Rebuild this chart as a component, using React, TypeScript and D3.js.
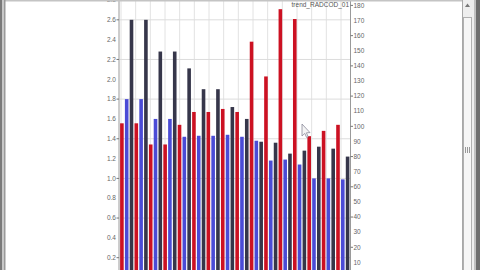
import React from "react";
import * as d3 from "d3";

// ---- data ----
const groups = d3.range(1, 17).map((i) => `P${i}`);
const seriesNames = ["trend_RADCOD_01", "seriesBlue", "seriesNavy"];
// red series (right axis)
const redValues = [102, 102, 88, 88, 101, 109.5, 109.5, 111.5, 109.5, 156, 133, 177.5, 171, 93.5, 97, 101];
// blue series (left axis)
const blueValues = [1.8, 1.8, 1.6, 1.6, 1.42, 1.43, 1.43, 1.44, 1.42, 1.38, 1.18, 1.19, 1.14, 1.0, 1.0, 0.99];
// navy series (left axis)
const navyValues = [2.6, 2.6, 2.28, 2.28, 2.11, 1.9, 1.9, 1.72, 1.6, 1.37, 1.36, 1.25, 1.28, 1.32, 1.3, 1.22];
const leftTicks = [0.2, 0.4, 0.6, 0.8, 1.0, 1.2, 1.4, 1.6, 1.8, 2.0, 2.2, 2.4, 2.6, 2.8];
const leftGridTicks = [0.2, 0.6, 1.0, 1.4, 1.8, 2.2, 2.6];
const rightTicks = [10, 20, 30, 40, 50, 60, 70, 80, 90, 100, 110, 120, 130, 140, 150, 160, 170, 180];
const rightMarkTicks = [20, 40, 60, 80, 100, 120, 140, 160, 180];
const legendLabel = "trend_RADCOD_01";

const W = 480;
const H = 270;
const plotLeft = 119.5;
const plotRight = 350;
const zeroY = 277.5;

const colors: Record<string, string> = {
  trend_RADCOD_01: "#cc1122",
  seriesBlue: "#4b4bd6",
  seriesNavy: "#36364a",
};

export default function App() {
  const x0 = d3.scaleBand<string>().domain(groups).range([plotLeft, plotRight]);
  const x1 = d3
    .scaleBand<string>()
    .domain(seriesNames)
    .range([0, x0.bandwidth()])
    .paddingInner(0.25)
    .paddingOuter(0.125);
  const yL = d3.scaleLinear().domain([0, 2.8]).range([zeroY, 0]);
  const yR = d3.scaleLinear().domain([0, 180]).range([zeroY, 5.4]);
  const gx = d3.scaleLinear().domain([0, 15]).range([121, 341]);
  const gridIdx = d3.range(0, 16);

  const font = "'Liberation Sans', Arial, sans-serif";

  const bars: { key: string; x: number; y: number; h: number; c: string }[] = [];
  groups.forEach((g, i) => {
    const vals: [string, number, d3.ScaleLinear<number, number>][] = [
      ["trend_RADCOD_01", redValues[i], yR],
      ["seriesBlue", blueValues[i], yL],
      ["seriesNavy", navyValues[i], yL],
    ];
    vals.forEach(([s, v, sc]) => {
      const y = sc(v);
      bars.push({ key: `${g}-${s}`, x: (x0(g) ?? 0) + (x1(s) ?? 0), y, h: H - y, c: colors[s] });
    });
  });

  return (
    <svg
      width={W}
      height={H}
      style={{ position: "absolute", left: 0, top: 0, background: "#fff" }}
    >
      <rect x={0} y={0} width={W} height={H} fill="#ffffff" />
      {/* vertical gridlines */}
      {gridIdx.map((j) => (
        <line key={`gv${j}`} x1={gx(j)} x2={gx(j)} y1={0} y2={H} stroke="#e2e2e2" strokeWidth={1} />
      ))}
      {/* horizontal gridlines */}
      {leftGridTicks.map((t) => (
        <line key={`gh${t}`} x1={plotLeft} x2={plotRight} y1={yL(t)} y2={yL(t)} stroke="#dcdcdc" strokeWidth={1} />
      ))}
      {/* bars */}
      {bars.map((b) => (
        <rect key={b.key} x={b.x} y={b.y} width={x1.bandwidth()} height={b.h} fill={b.c} />
      ))}
      {/* left axis */}
      <line x1={plotLeft - 0.5} x2={plotLeft - 0.5} y1={0} y2={H} stroke="#9a9a9a" />
      {leftTicks.map((t, i) => (
        <g key={`lt${t}`}>
          {i % 2 === 0 ? (
            <line x1={plotLeft - 3} x2={plotLeft - 0.5} y1={yL(t)} y2={yL(t)} stroke="#777" />
          ) : null}
          <text
            x={plotLeft - 3.5}
            y={yL(t)}
            dy="0.35em"
            textAnchor="end"
            fontSize={6.5}
            fontFamily={font}
            fill="#666"
          >
            {t.toFixed(1)}
          </text>
        </g>
      ))}
      {/* right axis */}
      <line x1={plotRight + 0.5} x2={plotRight + 0.5} y1={0} y2={H} stroke="#9a9a9a" />
      {rightMarkTicks.map((t) => (
        <line key={`rm${t}`} x1={plotRight + 0.5} x2={plotRight + 3} y1={yR(t)} y2={yR(t)} stroke="#777" />
      ))}
      {rightTicks.map((t) => (
        <text
          key={`rt${t}`}
          x={plotRight + 3.5}
          y={yR(t)}
          dy="0.35em"
          textAnchor="start"
          fontSize={6.5}
          fontFamily={font}
          fill="#666"
        >
          {t}
        </text>
      ))}
      {/* legend label */}
      <text x={plotRight - 1} y={7} textAnchor="end" fontSize={6.5} fontFamily={font} fill="#555">
        {legendLabel}
      </text>
      {/* window frame top */}
      <rect x={0} y={0} width={463} height={1.5} fill="#c4c4c4" />
      {/* left window edge */}
      <rect x={0} y={0} width={2} height={H} fill="#7a7a7a" />
      <rect x={2} y={0} width={2} height={H} fill="#c8c8c8" />
      <rect x={4} y={0} width={1.5} height={H} fill="#9a9a9a" />
      {/* right scrollbar */}
      <rect x={462} y={0} width={12} height={H} fill="#eeeeee" />
      <line x1={462.5} x2={462.5} y1={0} y2={H} stroke="#a8a8a8" />
      <rect x={463.5} y={17.5} width={8} height={270} fill="#f6f6f6" stroke="#b0b0b0" />
      <path d="M465,7 L467.5,3.5 L470,7 Z" fill="#777" />
      {[465.5, 467.5, 469.5].map((gxp) => (
        <line key={`grip${gxp}`} x1={gxp} x2={gxp} y1={147} y2={153} stroke="#999" />
      ))}
      <rect x={474} y={0} width={2} height={H} fill="#c0c0c0" />
      <rect x={476} y={0} width={4} height={H} fill="#6e6e6e" />
      {/* mouse cursor */}
      <path
        d="M302,124 L302,136 L304.8,133.4 L306.6,137.5 L308.2,136.8 L306.4,132.8 L310,132.6 Z"
        fill="#f4f4f4"
        stroke="#8a8a9a"
        strokeWidth={0.8}
      />
    </svg>
  );
}
